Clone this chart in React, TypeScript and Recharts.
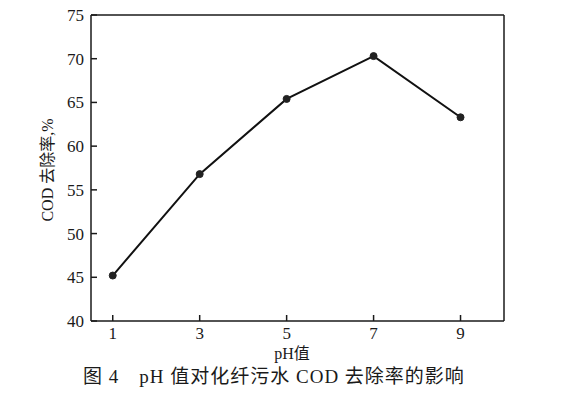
import React from 'react';
import { LineChart, Line, XAxis, YAxis, ReferenceLine } from 'recharts';

const phValues = [1, 3, 5, 7, 9];
const codRemoval = [45.2, 56.8, 65.4, 70.3, 63.3];
const xTicks = [1, 3, 5, 7, 9];
const yTicks = [40, 45, 50, 55, 60, 65, 70, 75];
const xAxisTitle = 'pH值';
const yAxisTitle = 'COD 去除率,%';
const captionNo = '图 4';
const captionText = 'pH 值对化纤污水 COD 去除率的影响';

const data = phValues.map((ph, i) => ({ ph, cod: codRemoval[i] }));

const font = "'Liberation Serif', 'Noto Sans CJK SC', serif";
const ink = '#1a1a1a';
const tickStyle = { fill: ink, fontSize: 17, fontFamily: font, style: { fontFamily: font } };

export default function App() {
  return (
    <div style={{ position: 'absolute', left: 0, top: 0, width: 574, height: 396, background: '#fff', fontFamily: font, color: ink }}>
      <LineChart width={574} height={396} data={data} margin={{ top: 15, right: 70, bottom: 35, left: 0 }} style={{ fontFamily: font }}>
        <XAxis
          dataKey="ph"
          type="number"
          domain={[0.5, 10]}
          ticks={xTicks}
          allowDataOverflow
          height={40}
          tickSize={-6}
          tickMargin={12}
          stroke={ink}
          strokeWidth={1.5}
          tick={tickStyle}
        />
        <YAxis
          type="number"
          domain={[40, 75]}
          ticks={yTicks}
          allowDataOverflow
          width={91}
          tickSize={-6}
          tickMargin={13}
          stroke={ink}
          strokeWidth={1.5}
          tick={tickStyle}
        />
        <ReferenceLine y={75} stroke={ink} strokeWidth={1.5} />
        <ReferenceLine x={10} stroke={ink} strokeWidth={1.5} />
        <Line
          dataKey="cod"
          stroke="#111"
          strokeWidth={2}
          dot={{ r: 3.5, fill: '#222', stroke: '#222', strokeWidth: 1 }}
          isAnimationActive={false}
        />
      </LineChart>
      <div style={{ position: 'absolute', left: 242, width: 100, top: 345, textAlign: 'center', fontSize: 16, lineHeight: '18px' }}>
        {xAxisTitle}
      </div>
      <div
        style={{
          position: 'absolute',
          left: 48 - 70,
          top: 170 - 9,
          width: 140,
          height: 18,
          lineHeight: '18px',
          textAlign: 'center',
          fontSize: 16,
          transform: 'rotate(-90deg)',
          transformOrigin: '70px 9px',
          whiteSpace: 'nowrap',
        }}
      >
        {yAxisTitle}
      </div>
      <div style={{ position: 'absolute', left: 83, top: 367, fontSize: 19, lineHeight: '20px', whiteSpace: 'nowrap', letterSpacing: 1 }}>
        <span>{captionNo}</span>
        <span style={{ marginLeft: 20 }}>{captionText}</span>
      </div>
    </div>
  );
}
